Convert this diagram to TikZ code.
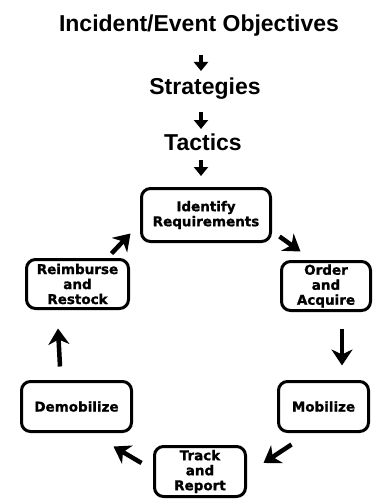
\documentclass[tikz,border=0pt]{standalone}
\usepackage{fontspec}
\setmainfont{Liberation Sans}
\newfontfamily\boxfont{DejaVu Sans}[BoldFeatures={FakeBold=1.2}]
\usetikzlibrary{arrows.meta,calc}
\begin{document}
\begin{tikzpicture}[x=1pt,y=-1pt,
  heading/.style={font=\fontsize{23}{26}\selectfont\bfseries, inner sep=0pt, anchor=base},
  stage/.style={draw, line width=3pt, rounded corners=9pt, align=center,
    font=\boxfont\bfseries\fontsize{13.5}{15}\selectfont, inner sep=0pt},
  small/.style={line width=3.5pt, -{Triangle[length=9pt,width=14pt]}},
  big/.style={line width=4.5pt, -{Stealth[length=16pt,width=21pt,inset=5pt]}}]
\useasboundingbox (0,0) rectangle (380,500);

\node[heading] (obj) at (199,32) {Incident/Event Objectives};
\node[heading] (strat) at (205,95) {Strategies};
\node[heading] (tac) at (203,150) {Tactics};

\node[stage, minimum width=129pt, minimum height=53pt] (ident) at (206,215) {Identify\\Requirements};
\node[stage, minimum width=102pt, minimum height=49pt] (reimb) at (77.5,284) {Reimburse\\and\\Restock};
\node[stage, minimum width=89pt, minimum height=49pt] (order) at (326,286) {Order\\and\\Acquire};
\node[stage, minimum width=110pt, minimum height=50pt] (demob) at (76.5,406.5) {Demobilize};
\node[stage, minimum width=90pt, minimum height=50pt] (mobil) at (323.5,406.5) {Mobilize};
\node[stage, minimum width=91pt, minimum height=50pt] (track) at (200,471.5) {Track\\and\\Report};

\draw[small] ($(obj.base)+(2,23)$) -- ($(strat.base)+(-4,-24)$);
\draw[small] ($(strat.base)+(-4,17)$) -- ($(tac.base)+(-2,-21)$);
\draw[small] ($(tac.base)+(-2,10)$) -- ($(ident.north)+(-5,-11)$);

\draw[big] ($(reimb.north east)+(-18.5,-4.5)$) -- ($(ident.south west)+(-9.5,-9.5)$);
\draw[big] ($(ident.south east)+(7.5,-6.5)$) -- ($(order.north west)+(20.5,-8.5)$);
\draw[big] ($(order.south)+(16,16.5)$) -- ($(mobil.north)+(18.5,-14.5)$);
\draw[big] ($(mobil.south west)+(14.5,11.5)$) -- ($(track.east)+(16.5,-8.5)$);
\draw[big] ($(track.west)+(-11.5,-8.5)$) -- ($(demob.south east)+(-19.5,13.5)$);
\draw[big] ($(demob.north)+(-16.5,-13.5)$) -- ($(reimb.south)+(-19.5,18.5)$);
\end{tikzpicture}
\end{document}
